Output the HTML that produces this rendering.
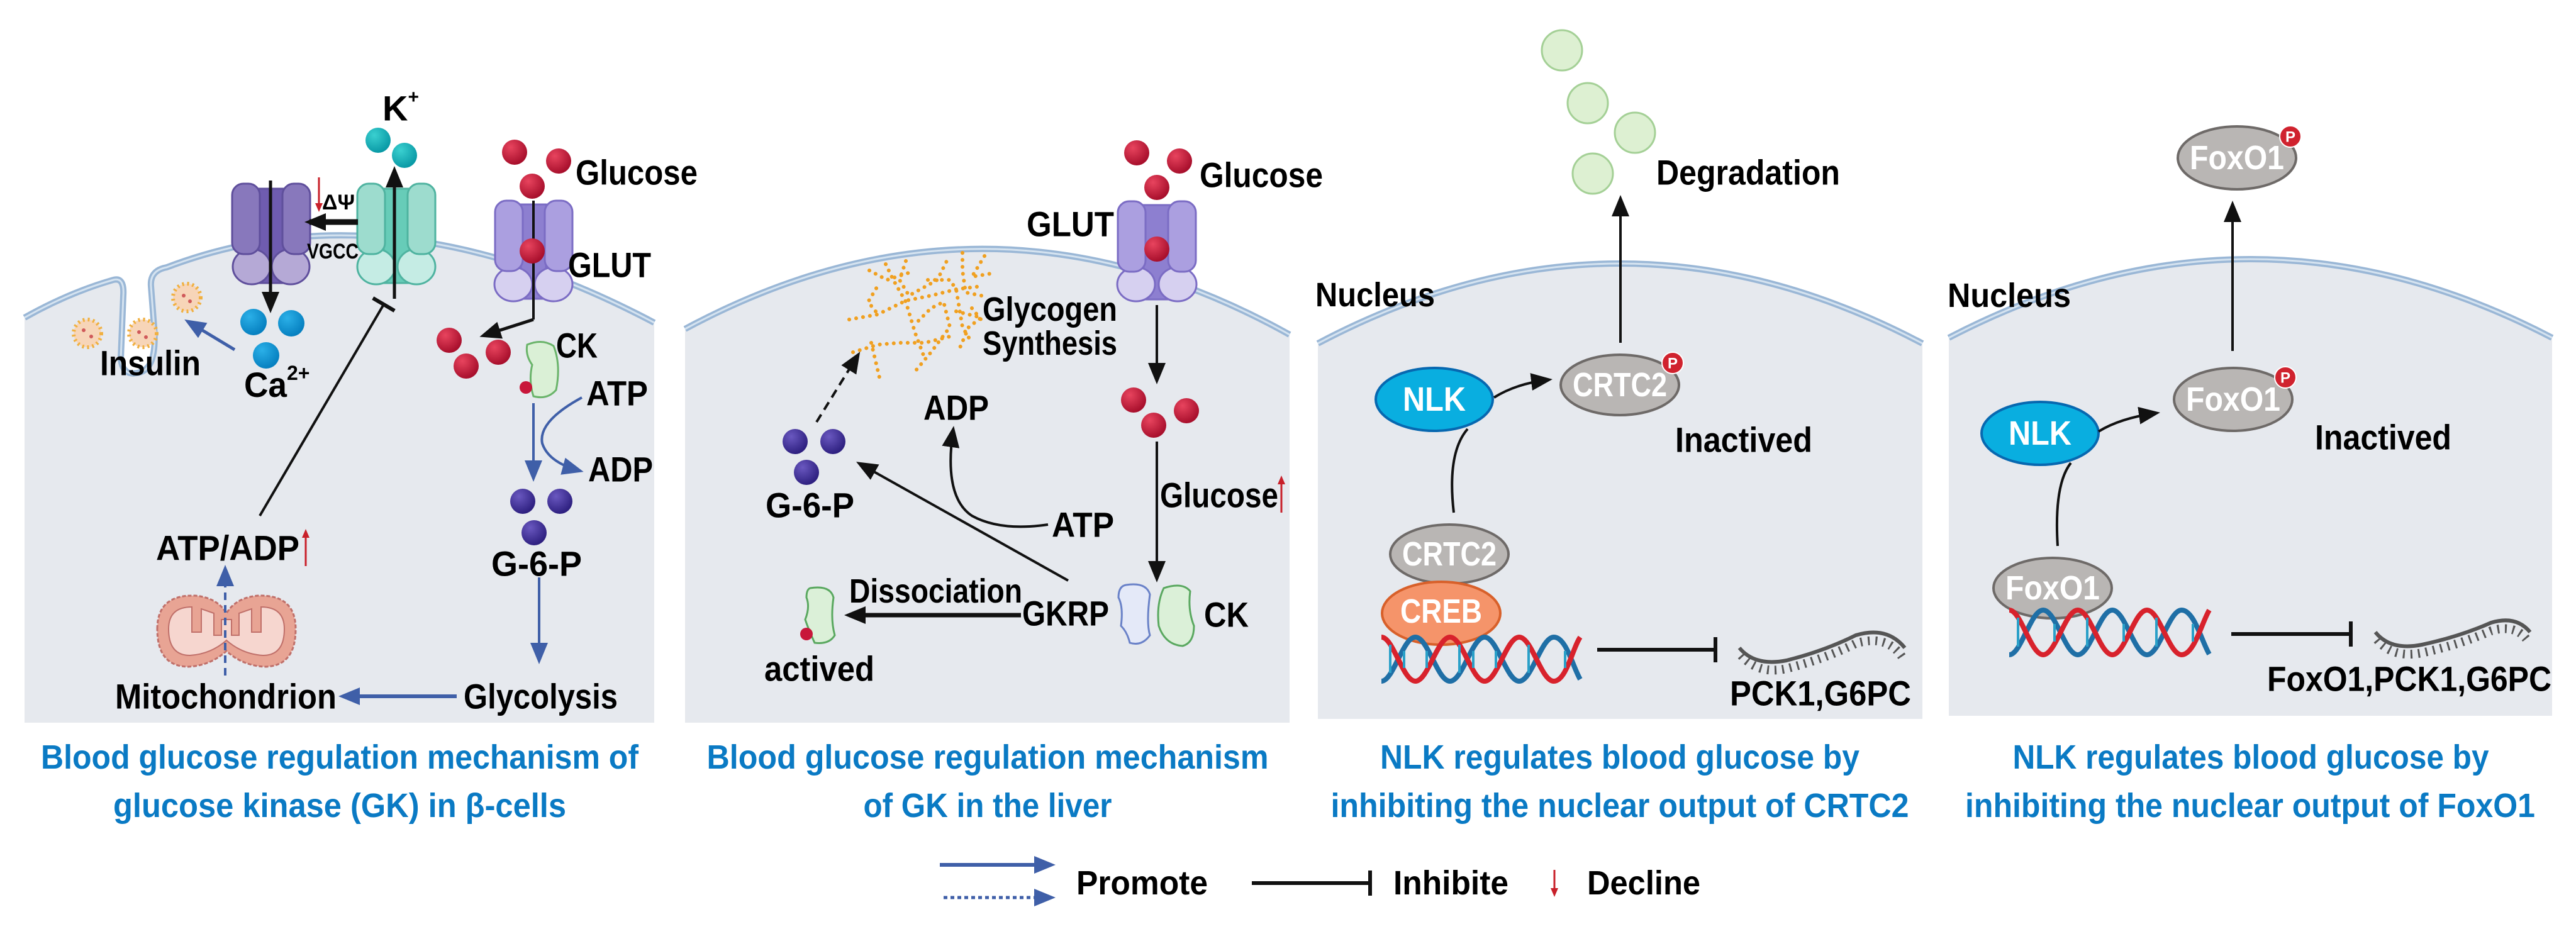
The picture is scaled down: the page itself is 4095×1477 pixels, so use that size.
<!DOCTYPE html>
<html><head><meta charset="utf-8"><style>
html,body{margin:0;padding:0;background:#fff;}
svg{display:block;}
text{font-family:"Liberation Sans",sans-serif;font-weight:bold;}
</style></head><body>
<svg width="4095" height="1477" viewBox="0 0 4095 1477" xmlns="http://www.w3.org/2000/svg">
<defs>
<marker id="akL" markerWidth="34" markerHeight="34" refX="26" refY="17" orient="auto" markerUnits="userSpaceOnUse"><path d="M0,3 L34,17 L0,31 Z" fill="#111"/></marker>
<marker id="ab" markerWidth="34" markerHeight="34" refX="26" refY="17" orient="auto" markerUnits="userSpaceOnUse"><path d="M0,3 L34,17 L0,31 Z" fill="#3f5fa8"/></marker>
<marker id="tb" markerWidth="8" markerHeight="40" refX="4" refY="20" orient="auto" markerUnits="userSpaceOnUse"><rect x="1" y="0" width="6" height="40" fill="#111"/></marker>
<marker id="ar" markerWidth="14" markerHeight="14" refX="10" refY="7" orient="auto" markerUnits="userSpaceOnUse"><path d="M0,1 L14,7 L0,13 Z" fill="#c8202a"/></marker>
<radialGradient id="gr" cx="0.35" cy="0.3" r="0.7"><stop offset="0" stop-color="#e8445e"/><stop offset="1" stop-color="#a80f2c"/></radialGradient>
<radialGradient id="gp" cx="0.35" cy="0.3" r="0.7"><stop offset="0" stop-color="#6a58c0"/><stop offset="1" stop-color="#2e2080"/></radialGradient>
<radialGradient id="gc" cx="0.35" cy="0.3" r="0.7"><stop offset="0" stop-color="#3ad0d0"/><stop offset="1" stop-color="#0a9aa6"/></radialGradient>
<radialGradient id="gb" cx="0.35" cy="0.3" r="0.7"><stop offset="0" stop-color="#2bb0e8"/><stop offset="1" stop-color="#0680c0"/></radialGradient>
</defs>

<!-- Panels -->
<g fill="#e6e9ee">
<path d="M39,1149 L39,505 Q110,465 180,445 Q198,440 196,470 L192,570 Q195,600 222,592 Q250,585 245,520 L240,455 Q238,430 265,425 Q620,290 1040,513 L1040,1149 Z"/>
<path d="M1089,1149 L1089,523 Q1570,264 2050,532 L2050,1149 Z"/>
<path d="M2095,1143 L2095,546 Q2575,292 3056,546 L3056,1143 Z"/>
<path d="M3098,1138 L3098,537 Q3578,287 4057,537 L4057,1138 Z"/>
</g>
<g fill="none" stroke="#9ab7d6" stroke-width="10">
<path d="M39,505 Q110,465 180,445 Q198,440 196,470 L192,570 Q195,600 222,592 Q250,585 245,520 L240,455 Q238,430 265,425 Q620,290 1040,513"/>
<path d="M1089,523 Q1570,264 2050,532"/>
<path d="M2095,546 Q2575,292 3056,546"/>
<path d="M3098,537 Q3578,287 4057,537"/>
</g>
<g fill="none" stroke="#d5e3f0" stroke-width="3">
<path d="M39,505 Q110,465 180,445 Q198,440 196,470 L192,570 Q195,600 222,592 Q250,585 245,520 L240,455 Q238,430 265,425 Q620,290 1040,513"/>
<path d="M1089,523 Q1570,264 2050,532"/>
<path d="M2095,546 Q2575,292 3056,546"/>
<path d="M3098,537 Q3578,287 4057,537"/>
</g>

<!-- ===== Panel 1 ===== -->
<g stroke="#5f4f9c" stroke-width="3">
<rect x="410" y="300" width="42" height="150" fill="#6f5cb0"/>
<ellipse cx="400" cy="424" rx="30" ry="28" fill="#b5a9d6"/>
<ellipse cx="462" cy="424" rx="30" ry="28" fill="#b5a9d6"/>
<rect x="369" y="292" width="44" height="112" rx="18" fill="#8878bc"/>
<rect x="449" y="292" width="44" height="112" rx="18" fill="#8878bc"/>
</g>
<g stroke="#4fb3a0" stroke-width="3">
<rect x="610" y="300" width="42" height="150" fill="#67ccb8"/>
<ellipse cx="598" cy="424" rx="30" ry="28" fill="#c5ece4"/>
<ellipse cx="662" cy="424" rx="30" ry="28" fill="#c5ece4"/>
<rect x="568" y="292" width="44" height="112" rx="18" fill="#9ddcce"/>
<rect x="648" y="292" width="44" height="112" rx="18" fill="#9ddcce"/>
</g>
<g stroke="#7b6cc4" stroke-width="3">
<rect x="828" y="325" width="40" height="150" fill="#8d7fd0"/>
<ellipse cx="816" cy="452" rx="30" ry="27" fill="#d6d0f0"/>
<ellipse cx="880" cy="452" rx="30" ry="27" fill="#d6d0f0"/>
<rect x="787" y="319" width="44" height="112" rx="18" fill="#ab9fe0"/>
<rect x="866" y="319" width="44" height="112" rx="18" fill="#ab9fe0"/>
</g>
<line x1="430" y1="287" x2="430" y2="490" stroke="#111" stroke-width="5" marker-end="url(#akL)"/>
<line x1="627" y1="475" x2="627" y2="272" stroke="#111" stroke-width="5" marker-end="url(#akL)"/>
<line x1="569" y1="353" x2="492" y2="353" stroke="#111" stroke-width="9" marker-end="url(#akL)"/>
<line x1="507" y1="282" x2="507" y2="333" stroke="#c8202a" stroke-width="3" marker-end="url(#ar)"/>
<text x="512" y="322" font-size="34" font-weight="normal" dominant-baseline="central" textLength="52" lengthAdjust="spacingAndGlyphs">ΔΨ</text>
<text x="488" y="400" font-size="34" dominant-baseline="central" textLength="82" lengthAdjust="spacingAndGlyphs">VGCC</text>
<text x="608" y="172" font-size="56" dominant-baseline="central">K<tspan font-size="30" dy="-18">+</tspan></text>
<circle cx="601" cy="223" r="20" fill="url(#gc)"/>
<circle cx="643" cy="247" r="20" fill="url(#gc)"/>
<circle cx="403" cy="512" r="21" fill="url(#gb)"/>
<circle cx="463" cy="514" r="21" fill="url(#gb)"/>
<circle cx="423" cy="565" r="21" fill="url(#gb)"/>
<text x="388" y="611" font-size="56" dominant-baseline="central"><tspan textLength="68" lengthAdjust="spacingAndGlyphs">Ca</tspan><tspan font-size="32" dy="-18">2+</tspan></text>
<text x="159" y="577" font-size="56" dominant-baseline="central" textLength="160" lengthAdjust="spacingAndGlyphs">Insulin</text>
<g fill="#f7d5b8" stroke="#f0b040" stroke-width="6" stroke-dasharray="3 5">
<circle cx="139" cy="530" r="22"/><circle cx="227" cy="530" r="22"/><circle cx="297" cy="473" r="22"/>
</g>
<g fill="#d05a5a"><circle cx="133" cy="525" r="3"/><circle cx="145" cy="535" r="3"/><circle cx="221" cy="528" r="3"/><circle cx="232" cy="536" r="3"/><circle cx="292" cy="470" r="3"/><circle cx="302" cy="479" r="3"/></g>
<line x1="373" y1="556" x2="300" y2="512" stroke="#3f5fa8" stroke-width="5" marker-end="url(#ab)"/>
<line x1="413" y1="820" x2="610" y2="484" stroke="#111" stroke-width="4" marker-end="url(#tb)"/>
<circle cx="818" cy="242" r="20" fill="url(#gr)"/>
<circle cx="888" cy="256" r="20" fill="url(#gr)"/>
<circle cx="846" cy="296" r="20" fill="url(#gr)"/>
<line x1="848" y1="319" x2="848" y2="508" stroke="#111" stroke-width="4"/>
<circle cx="846" cy="399" r="20" fill="url(#gr)"/>
<line x1="848" y1="508" x2="770" y2="533" stroke="#111" stroke-width="5" marker-end="url(#akL)"/>
<text x="915" y="274" font-size="56" dominant-baseline="central" textLength="194" lengthAdjust="spacingAndGlyphs">Glucose</text>
<text x="903" y="421" font-size="56" dominant-baseline="central" textLength="132" lengthAdjust="spacingAndGlyphs">GLUT</text>
<circle cx="714" cy="541" r="20" fill="url(#gr)"/>
<circle cx="792" cy="560" r="20" fill="url(#gr)"/>
<circle cx="741" cy="582" r="20" fill="url(#gr)"/>
<path d="M838,548 Q862,538 880,550 Q892,580 884,620 Q870,636 848,630 Q840,605 846,580 Q835,565 838,548 Z" fill="#daf0d6" stroke="#6ab46a" stroke-width="3"/>
<circle cx="836" cy="616" r="10" fill="#c8163a"/>
<text x="884" y="549" font-size="56" dominant-baseline="central" textLength="66" lengthAdjust="spacingAndGlyphs">CK</text>
<text x="932" y="625" font-size="56" dominant-baseline="central" textLength="98" lengthAdjust="spacingAndGlyphs">ATP</text>
<text x="935" y="746" font-size="56" dominant-baseline="central" textLength="103" lengthAdjust="spacingAndGlyphs">ADP</text>
<line x1="848" y1="641" x2="848" y2="758" stroke="#3f5fa8" stroke-width="4" marker-end="url(#ab)"/>
<path d="M925,632 Q855,670 862,705 Q872,735 920,748" fill="none" stroke="#3f5fa8" stroke-width="4" marker-end="url(#ab)"/>
<circle cx="831" cy="797" r="20" fill="url(#gp)"/>
<circle cx="890" cy="797" r="20" fill="url(#gp)"/>
<circle cx="849" cy="847" r="20" fill="url(#gp)"/>
<text x="781" y="896" font-size="56" dominant-baseline="central" textLength="144" lengthAdjust="spacingAndGlyphs">G-6-P</text>
<line x1="857" y1="918" x2="857" y2="1048" stroke="#3f5fa8" stroke-width="4" marker-end="url(#ab)"/>
<text x="737" y="1107" font-size="56" dominant-baseline="central" textLength="245" lengthAdjust="spacingAndGlyphs">Glycolysis</text>
<text x="183" y="1107" font-size="56" dominant-baseline="central" textLength="352" lengthAdjust="spacingAndGlyphs">Mitochondrion</text>
<line x1="726" y1="1107" x2="546" y2="1107" stroke="#3f5fa8" stroke-width="6" marker-end="url(#ab)"/>
<path d="M250,1000 Q250,945 310,947 Q345,950 360,975 Q375,950 410,947 Q470,945 470,1000 Q470,1060 420,1060 Q385,1058 360,1035 Q335,1058 300,1060 Q250,1060 250,1000 Z" fill="#e8a494" stroke="#c0706a" stroke-width="3" stroke-dasharray="6 3"/>
<path d="M268,1000 Q268,965 305,965 L305,1005 L320,1005 L320,968 L340,975 L340,1010 L352,1010 L352,985 L368,985 L368,1010 L380,1010 L380,975 L400,968 L400,1005 L415,1005 L415,965 Q452,965 452,1000 Q452,1042 418,1042 Q385,1040 360,1018 Q335,1040 302,1042 Q268,1042 268,1000 Z" fill="#f6d6cf" stroke="#c0706a" stroke-width="2"/>
<line x1="358" y1="1074" x2="358" y2="906" stroke="#3f5fa8" stroke-width="4" stroke-dasharray="12 8" marker-end="url(#ab)"/>
<text x="248" y="871" font-size="56" dominant-baseline="central" textLength="228" lengthAdjust="spacingAndGlyphs">ATP/ADP</text>
<line x1="486" y1="900" x2="486" y2="845" stroke="#c8202a" stroke-width="3" marker-end="url(#ar)"/>

<!-- ===== Panel 2 ===== -->
<g fill="none" stroke="#f0a020" stroke-width="6" stroke-linecap="round" stroke-dasharray="0.1 11">
<path d="M1350,508 L1395,500 L1440,478 L1480,470 L1520,460 L1560,455"/>
<path d="M1356,560 L1395,548 L1430,545 L1470,545 L1510,535"/>
<path d="M1385,545 L1398,600"/>
<path d="M1392,495 L1380,480 L1395,455"/>
<path d="M1382,430 L1410,445 L1450,432"/>
<path d="M1408,420 L1420,445 L1440,480 L1455,530 L1470,570"/>
<path d="M1440,415 L1430,445 L1445,470 L1490,445 L1505,415"/>
<path d="M1475,445 L1510,445 L1520,460 L1530,520 L1545,545"/>
<path d="M1460,510 L1480,490 L1500,480 L1510,520 L1480,560 L1455,590"/>
<path d="M1530,402 L1530,430 L1535,465 L1560,470"/>
<path d="M1565,407 L1545,440 L1575,435"/>
<path d="M1520,495 L1560,505 L1540,520 L1525,555"/>
<path d="M1545,490 L1565,515"/>
</g>
<text x="1562" y="492" font-size="54" font-weight="normal" dominant-baseline="central" textLength="214" lengthAdjust="spacingAndGlyphs">Glycogen</text>
<text x="1562" y="546" font-size="54" font-weight="normal" dominant-baseline="central" textLength="214" lengthAdjust="spacingAndGlyphs">Synthesis</text>
<g stroke="#7b6cc4" stroke-width="3">
<rect x="1818" y="326" width="42" height="150" fill="#8d7fd0"/>
<ellipse cx="1806" cy="452" rx="30" ry="27" fill="#d6d0f0"/>
<ellipse cx="1872" cy="452" rx="30" ry="27" fill="#d6d0f0"/>
<rect x="1777" y="320" width="44" height="112" rx="18" fill="#ab9fe0"/>
<rect x="1857" y="320" width="44" height="112" rx="18" fill="#ab9fe0"/>
</g>
<circle cx="1807" cy="243" r="20" fill="url(#gr)"/>
<circle cx="1875" cy="256" r="20" fill="url(#gr)"/>
<circle cx="1839" cy="298" r="20" fill="url(#gr)"/>
<circle cx="1839" cy="396" r="20" fill="url(#gr)"/>
<text x="1907" y="278" font-size="56" dominant-baseline="central" textLength="196" lengthAdjust="spacingAndGlyphs">Glucose</text>
<text x="1632" y="356" font-size="56" dominant-baseline="central" textLength="139" lengthAdjust="spacingAndGlyphs">GLUT</text>
<line x1="1839" y1="485" x2="1839" y2="603" stroke="#111" stroke-width="4" marker-end="url(#akL)"/>
<circle cx="1802" cy="636" r="20" fill="url(#gr)"/>
<circle cx="1886" cy="653" r="20" fill="url(#gr)"/>
<circle cx="1834" cy="676" r="20" fill="url(#gr)"/>
<line x1="1839" y1="702" x2="1839" y2="918" stroke="#111" stroke-width="4" marker-end="url(#akL)"/>
<text x="1844" y="787" font-size="56" dominant-baseline="central" textLength="188" lengthAdjust="spacingAndGlyphs">Glucose</text>
<line x1="2037" y1="815" x2="2037" y2="760" stroke="#c8202a" stroke-width="3" marker-end="url(#ar)"/>
<path d="M1790,930 Q1822,925 1828,945 Q1822,990 1828,1010 Q1815,1028 1796,1022 Q1792,1005 1782,995 Q1786,965 1778,950 Q1778,932 1790,930 Z" fill="#e4e9f8" stroke="#6a82c8" stroke-width="3"/>
<path d="M1850,935 Q1880,925 1892,940 Q1888,970 1898,995 Q1898,1022 1880,1027 Q1852,1025 1842,995 Q1838,960 1850,935 Z" fill="#dbf0d8" stroke="#5aa860" stroke-width="3"/>
<text x="1914" y="977" font-size="56" dominant-baseline="central" textLength="71" lengthAdjust="spacingAndGlyphs">CK</text>
<text x="1625" y="975" font-size="56" dominant-baseline="central" textLength="138" lengthAdjust="spacingAndGlyphs">GKRP</text>
<line x1="1623" y1="978" x2="1350" y2="978" stroke="#111" stroke-width="7" marker-end="url(#akL)"/>
<text x="1350" y="940" font-size="54" dominant-baseline="central" textLength="275" lengthAdjust="spacingAndGlyphs">Dissociation</text>
<path d="M1288,935 Q1320,930 1325,950 Q1320,985 1327,1010 Q1318,1025 1295,1022 Q1285,1000 1280,985 Q1288,965 1282,950 Q1282,937 1288,935 Z" fill="#dbf0d8" stroke="#5aa860" stroke-width="3"/>
<circle cx="1282" cy="1008" r="10" fill="#c8163a"/>
<text x="1215" y="1063" font-size="56" dominant-baseline="central" textLength="175" lengthAdjust="spacingAndGlyphs">actived</text>
<line x1="1698" y1="923" x2="1368" y2="738" stroke="#111" stroke-width="4" marker-end="url(#akL)"/>
<path d="M1666,834 Q1590,845 1545,820 Q1500,790 1515,685" fill="none" stroke="#111" stroke-width="4" marker-end="url(#akL)"/>
<text x="1672" y="834" font-size="56" dominant-baseline="central" textLength="99" lengthAdjust="spacingAndGlyphs">ATP</text>
<text x="1468" y="648" font-size="56" dominant-baseline="central" textLength="104" lengthAdjust="spacingAndGlyphs">ADP</text>
<circle cx="1264" cy="702" r="20" fill="url(#gp)"/>
<circle cx="1324" cy="702" r="20" fill="url(#gp)"/>
<circle cx="1282" cy="751" r="20" fill="url(#gp)"/>
<text x="1217" y="803" font-size="56" dominant-baseline="central" textLength="141" lengthAdjust="spacingAndGlyphs">G-6-P</text>
<line x1="1298" y1="671" x2="1363" y2="566" stroke="#111" stroke-width="4" stroke-dasharray="14 9" marker-end="url(#akL)"/>

<!-- ===== Panel 3 ===== -->
<g fill="#ddf0d2" stroke="#a4d096" stroke-width="3">
<circle cx="2483" cy="80" r="32"/><circle cx="2524" cy="164" r="32"/><circle cx="2599" cy="211" r="32"/><circle cx="2532" cy="276" r="32"/>
</g>
<text x="2633" y="274" font-size="56" dominant-baseline="central" textLength="292" lengthAdjust="spacingAndGlyphs">Degradation</text>
<line x1="2576" y1="545" x2="2576" y2="318" stroke="#111" stroke-width="4" marker-end="url(#akL)"/>
<text x="2091" y="469" font-size="54" dominant-baseline="central" textLength="190" lengthAdjust="spacingAndGlyphs">Nucleus</text>
<ellipse cx="2280" cy="635" rx="93" ry="50" fill="#09aee0" stroke="#0768b0" stroke-width="4"/>
<text x="2280" y="635" font-size="54" fill="#fff" text-anchor="middle" dominant-baseline="central" textLength="100" lengthAdjust="spacingAndGlyphs">NLK</text>
<ellipse cx="2575" cy="612" rx="94" ry="48" fill="#b9b6b4" stroke="#6e6a68" stroke-width="4"/>
<text x="2575" y="612" font-size="54" fill="#fff" text-anchor="middle" dominant-baseline="central" textLength="150" lengthAdjust="spacingAndGlyphs">CRTC2</text>
<circle cx="2659" cy="577" r="17" fill="#d0222e" stroke="#fff" stroke-width="2"/>
<text x="2659" y="578" font-size="24" font-weight="normal" fill="#fff" text-anchor="middle" dominant-baseline="central">P</text>
<path d="M2375,632 Q2410,610 2460,604" fill="none" stroke="#111" stroke-width="4" marker-end="url(#akL)"/>
<path d="M2311,815 Q2300,720 2333,682" fill="none" stroke="#111" stroke-width="4"/>
<text x="2663" y="699" font-size="56" dominant-baseline="central" textLength="218" lengthAdjust="spacingAndGlyphs">Inactived</text>
<ellipse cx="2304" cy="881" rx="94" ry="47" fill="#b9b6b4" stroke="#6e6a68" stroke-width="4"/>
<text x="2304" y="881" font-size="54" fill="#fff" text-anchor="middle" dominant-baseline="central" textLength="150" lengthAdjust="spacingAndGlyphs">CRTC2</text>
<ellipse cx="2291" cy="975" rx="94" ry="50" fill="#f5946a" stroke="#d8602a" stroke-width="4"/>
<text x="2291" y="972" font-size="54" fill="#fff" text-anchor="middle" dominant-baseline="central" textLength="130" lengthAdjust="spacingAndGlyphs">CREB</text>
<g fill="none" stroke-width="8">
<path d="M2196,1083 C2215,1083 2230,1013 2250,1013 C2270,1013 2285,1083 2305,1083 C2325,1083 2340,1013 2360,1013 C2380,1013 2395,1083 2415,1083 C2435,1083 2450,1013 2470,1013 C2490,1013 2500,1060 2512,1080" stroke="#1f6fa6"/>
<path d="M2196,1013 C2215,1013 2230,1083 2250,1083 C2270,1083 2285,1013 2305,1013 C2325,1013 2340,1083 2360,1083 C2380,1083 2395,1013 2415,1013 C2435,1013 2450,1083 2470,1083 C2490,1083 2500,1030 2512,1013" stroke="#d8222c"/>
</g>
<g stroke-width="4" stroke="#2aa0c8"><line x1="2210" y1="1025" x2="2210" y2="1070"/><line x1="2232" y1="1035" x2="2232" y2="1062"/><line x1="2268" y1="1035" x2="2268" y2="1062"/><line x1="2320" y1="1025" x2="2320" y2="1070"/><line x1="2342" y1="1035" x2="2342" y2="1062"/><line x1="2378" y1="1035" x2="2378" y2="1062"/><line x1="2430" y1="1025" x2="2430" y2="1070"/><line x1="2488" y1="1035" x2="2488" y2="1062"/></g>
<line x1="2539" y1="1033" x2="2727" y2="1033" stroke="#111" stroke-width="6" marker-end="url(#tb)"/>
<path d="M2765,1030 Q2790,1060 2840,1050 Q2900,1035 2950,1010 Q3000,995 3028,1030" fill="none" stroke="#555" stroke-width="6"/>
<path d="M2768,1042 Q2795,1073 2840,1063 Q2900,1048 2950,1023 Q3000,1008 3024,1045" fill="none" stroke="#555" stroke-width="14" stroke-dasharray="3 9"/>
<text x="2750" y="1102" font-size="56" dominant-baseline="central" textLength="288" lengthAdjust="spacingAndGlyphs">PCK1,G6PC</text>

<!-- ===== Panel 4 ===== -->
<ellipse cx="3556" cy="251" rx="94" ry="50" fill="#b9b6b4" stroke="#6e6a68" stroke-width="4"/>
<text x="3556" y="251" font-size="54" fill="#fff" text-anchor="middle" dominant-baseline="central" textLength="150" lengthAdjust="spacingAndGlyphs">FoxO1</text>
<circle cx="3641" cy="217" r="17" fill="#d0222e" stroke="#fff" stroke-width="2"/>
<text x="3641" y="218" font-size="24" font-weight="normal" fill="#fff" text-anchor="middle" dominant-baseline="central">P</text>
<line x1="3549" y1="558" x2="3549" y2="327" stroke="#111" stroke-width="4" marker-end="url(#akL)"/>
<text x="3096" y="470" font-size="54" dominant-baseline="central" textLength="196" lengthAdjust="spacingAndGlyphs">Nucleus</text>
<ellipse cx="3550" cy="635" rx="94" ry="50" fill="#b9b6b4" stroke="#6e6a68" stroke-width="4"/>
<text x="3550" y="635" font-size="54" fill="#fff" text-anchor="middle" dominant-baseline="central" textLength="150" lengthAdjust="spacingAndGlyphs">FoxO1</text>
<circle cx="3633" cy="600" r="17" fill="#d0222e" stroke="#fff" stroke-width="2"/>
<text x="3633" y="601" font-size="24" font-weight="normal" fill="#fff" text-anchor="middle" dominant-baseline="central">P</text>
<ellipse cx="3243" cy="689" rx="93" ry="50" fill="#09aee0" stroke="#0768b0" stroke-width="4"/>
<text x="3243" y="689" font-size="54" fill="#fff" text-anchor="middle" dominant-baseline="central" textLength="100" lengthAdjust="spacingAndGlyphs">NLK</text>
<path d="M3336,686 Q3370,665 3426,657" fill="none" stroke="#111" stroke-width="4" marker-end="url(#akL)"/>
<path d="M3271,868 Q3265,770 3292,736" fill="none" stroke="#111" stroke-width="4"/>
<text x="3680" y="695" font-size="56" dominant-baseline="central" textLength="217" lengthAdjust="spacingAndGlyphs">Inactived</text>
<ellipse cx="3263" cy="935" rx="94" ry="48" fill="#b9b6b4" stroke="#6e6a68" stroke-width="4"/>
<text x="3263" y="935" font-size="54" fill="#fff" text-anchor="middle" dominant-baseline="central" textLength="150" lengthAdjust="spacingAndGlyphs">FoxO1</text>
<g fill="none" stroke-width="8">
<path d="M3194,1041 C3213,1041 3228,970 3248,970 C3268,970 3283,1041 3303,1041 C3323,1041 3338,970 3358,970 C3378,970 3393,1041 3413,1041 C3433,1041 3448,970 3468,970 C3488,970 3500,1020 3512,1040" stroke="#1f6fa6"/>
<path d="M3194,970 C3213,970 3228,1041 3248,1041 C3268,1041 3283,970 3303,970 C3323,970 3338,1041 3358,1041 C3378,1041 3393,970 3413,970 C3433,970 3448,1041 3468,1041 C3488,1041 3500,990 3512,970" stroke="#d8222c"/>
</g>
<g stroke-width="4" stroke="#2aa0c8"><line x1="3208" y1="982" x2="3208" y2="1028"/><line x1="3266" y1="992" x2="3266" y2="1020"/><line x1="3318" y1="982" x2="3318" y2="1028"/><line x1="3376" y1="992" x2="3376" y2="1020"/><line x1="3428" y1="982" x2="3428" y2="1028"/><line x1="3486" y1="992" x2="3486" y2="1020"/></g>
<line x1="3547" y1="1008" x2="3737" y2="1008" stroke="#111" stroke-width="6" marker-end="url(#tb)"/>
<path d="M3776,1005 Q3800,1035 3850,1025 Q3910,1012 3960,990 Q4000,978 4022,1005" fill="none" stroke="#555" stroke-width="6"/>
<path d="M3779,1017 Q3803,1047 3850,1038 Q3910,1025 3960,1003 Q4000,991 4019,1020" fill="none" stroke="#555" stroke-width="14" stroke-dasharray="3 9"/>
<text x="3604" y="1079" font-size="56" dominant-baseline="central" textLength="452" lengthAdjust="spacingAndGlyphs">FoxO1,PCK1,G6PC</text>

<!-- Titles -->
<g fill="#0a7ac4" font-size="54" text-anchor="middle" dominant-baseline="central">
<text x="540" y="1204" textLength="950" lengthAdjust="spacingAndGlyphs">Blood glucose regulation mechanism of</text>
<text x="540" y="1281" textLength="720" lengthAdjust="spacingAndGlyphs">glucose kinase (GK) in β-cells</text>
<text x="1570" y="1204" textLength="893" lengthAdjust="spacingAndGlyphs">Blood glucose regulation mechanism</text>
<text x="1570" y="1281" textLength="395" lengthAdjust="spacingAndGlyphs">of GK in the liver</text>
<text x="2575" y="1204" textLength="762" lengthAdjust="spacingAndGlyphs">NLK regulates blood glucose by</text>
<text x="2575" y="1281" textLength="919" lengthAdjust="spacingAndGlyphs">inhibiting the nuclear output of CRTC2</text>
<text x="3578" y="1204" textLength="757" lengthAdjust="spacingAndGlyphs">NLK regulates blood glucose by</text>
<text x="3577" y="1281" textLength="906" lengthAdjust="spacingAndGlyphs">inhibiting the nuclear output of FoxO1</text>
</g>

<!-- Legend -->
<line x1="1494" y1="1375" x2="1670" y2="1375" stroke="#3f5fa8" stroke-width="6" marker-end="url(#ab)"/>
<line x1="1500" y1="1427" x2="1670" y2="1427" stroke="#3f5fa8" stroke-width="5" stroke-dasharray="6 5" marker-end="url(#ab)"/>
<text x="1711" y="1404" font-size="54" dominant-baseline="central" textLength="209" lengthAdjust="spacingAndGlyphs">Promote</text>
<line x1="1990" y1="1404" x2="2178" y2="1404" stroke="#111" stroke-width="6" marker-end="url(#tb)"/>
<text x="2215" y="1404" font-size="54" dominant-baseline="central" textLength="183" lengthAdjust="spacingAndGlyphs">Inhibite</text>
<line x1="2471" y1="1383" x2="2471" y2="1422" stroke="#c8202a" stroke-width="3" marker-end="url(#ar)"/>
<text x="2523" y="1404" font-size="54" dominant-baseline="central" textLength="180" lengthAdjust="spacingAndGlyphs">Decline</text>
</svg>
</body></html>
